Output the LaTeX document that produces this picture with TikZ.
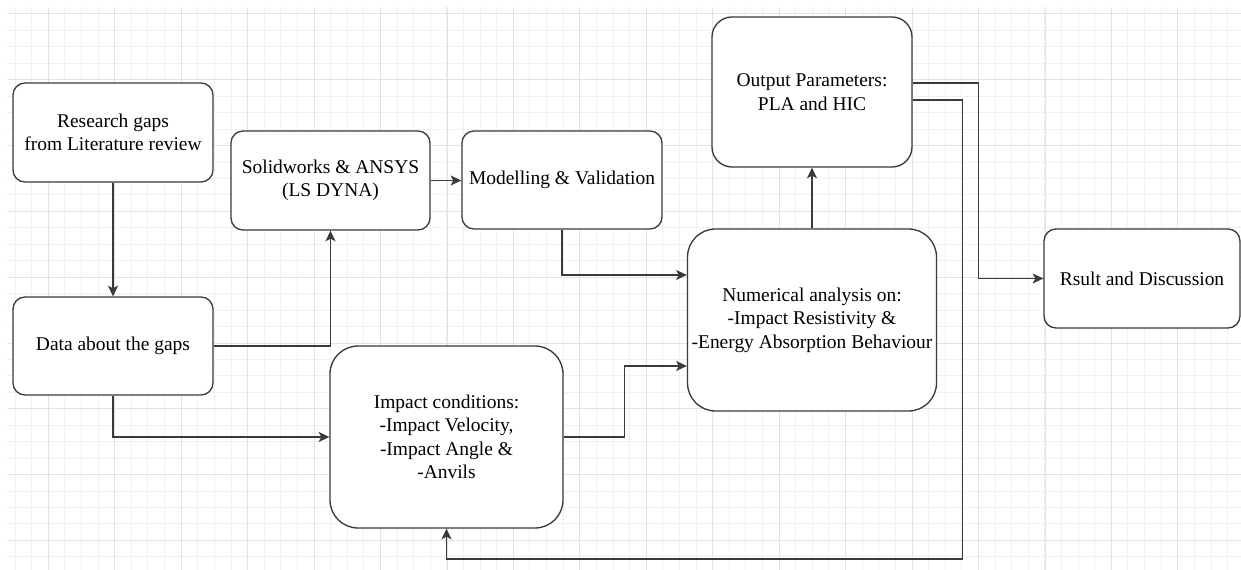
\documentclass[tikz,border=0pt]{standalone}
\usepackage{fontspec}
\setmainfont{Liberation Serif}
\usetikzlibrary{arrows.meta}
\definecolor{edgegray}{HTML}{3A3A3A}
\definecolor{gridmajor}{HTML}{E2E2E2}
\definecolor{gridminor}{HTML}{F1F1F1}
\tikzset{
  box/.style={draw=edgegray,line width=1pt,fill=white,rounded corners=9pt,
    align=center,inner sep=0pt,font=\fontsize{14.6}{17.6}\selectfont},
  link/.style={draw=edgegray,line width=1pt,-{Stealth[length=8pt,width=7.5pt,inset=2pt]}},
}
\begin{document}
\begin{tikzpicture}[x=0.75pt,y=-0.75pt]
    \useasboundingbox (0,0) rectangle (1241,570);
    \fill[white] (0,0) rectangle (1241,570);
    \begin{scope}
      \clip (7,7) rectangle (1241,570);
      \foreach \i in {-2,...,71} \draw[gridminor,line width=0.75pt] ({48.3+16.61*\i},7) -- ++(0,563);
      \foreach \j in {0,...,34} \draw[gridminor,line width=0.75pt] (7,{14+16.45*\j}) -- ++(1234,0);
      \foreach \i in {0,...,18} \draw[gridmajor,line width=0.75pt] ({48.3+66.45*\i},7) -- ++(0,563);
      \foreach \j in {0,...,8} \draw[gridmajor,line width=0.75pt] (7,{14+65.8*\j}) -- ++(1234,0);
    \end{scope}

    \node[box,minimum width=150pt,minimum height=74.25pt] (gaps) at (113,132.5) {Research gaps\\from Literature review};
    \node[box,minimum width=150pt,minimum height=73.5pt] (data) at (113,346) {Data about the gaps};
    \node[box,minimum width=149.25pt,minimum height=74.25pt] (solid) at (330.5,180.5) {Solidworks \& ANSYS\\(LS DYNA)};
    \node[box,minimum width=150pt,minimum height=73.5pt] (model) at (562,180) {Modelling \& Validation};
    \node[box,rounded corners=21pt,minimum width=174.75pt,minimum height=136.5pt] (impact) at (446.5,437) {Impact conditions:\\-Impact Velocity,\\-Impact Angle \&\\-Anvils};
    \node[box,rounded corners=21pt,minimum width=186.75pt,minimum height=136.5pt] (numer) at (812,320) {Numerical analysis on:\\-Impact Resistivity \&\\-Energy Absorption Behaviour};
    \node[box,rounded corners=15pt,minimum width=150pt,minimum height=112.5pt] (output) at (812,92) {Output Parameters:\\PLA and HIC};
    \node[box,minimum width=147pt,minimum height=74.25pt] (result) at (1142,278.5) {Rsult and Discussion};
    \coordinate (back) at (446.5,559);

    \draw[link] (gaps) -- (data);
    \draw[link] (data.east) -| (solid.south);
    \draw[link] (data.south) |- (impact.west);
    \draw[link] (solid.east) -- (solid.east -| model.west);
    \draw[link] (model.south) |- ([yshift=33.75pt]numer.west);
    \draw[link] (impact.east) -- ++(61,0) |- ([yshift=-34.5pt]numer.west);
    \draw[link] (numer) -- (output);
    \draw[link] ([yshift=6.75pt]output.east) -- ++(66,0) |- (result.west);
    \draw[link] ([yshift=-6pt]output.east) -- ++(50,0) |- (back) -- (impact.south);
  \end{tikzpicture}
\end{document}
